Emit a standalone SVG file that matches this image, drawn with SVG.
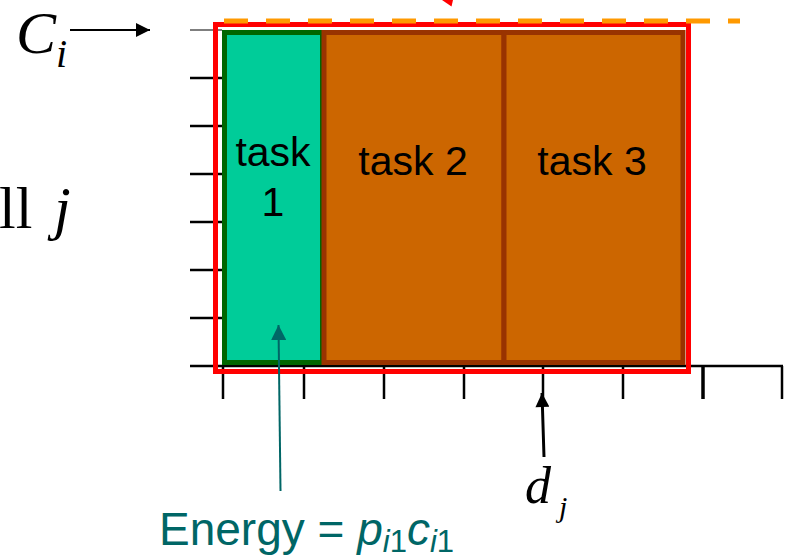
<svg xmlns="http://www.w3.org/2000/svg" width="791" height="559" viewBox="0 0 791 559">
<style>
.serif{font-family:"Liberation Serif","Times New Roman",serif;fill:#000}
.it{font-style:italic}
.task{font-family:"Liberation Sans",Arial,sans-serif;font-size:41px;fill:#000;text-anchor:middle}
.teal{font-family:"Liberation Sans",Arial,sans-serif;fill:#006666}
.tick{stroke:#000;stroke-width:2.5}
.tickb{stroke:#000;stroke-width:3.5}
</style>
<defs>
<marker id="ab" viewBox="0 0 10 10" refX="10" refY="5" markerWidth="16" markerHeight="14" markerUnits="userSpaceOnUse" orient="auto">
<path d="M0,0 L10,5 L0,10 z" fill="#000"/>
</marker>
<marker id="at" viewBox="0 0 10 10" refX="10" refY="5" markerWidth="16" markerHeight="15" markerUnits="userSpaceOnUse" orient="auto">
<path d="M0,0 L10,5 L0,10 z" fill="#006666"/>
</marker>
</defs>
<g id="axes">
<line x1="190" y1="366" x2="783" y2="366" stroke="#000" stroke-width="2.5"/>
<line x1="190" y1="30" x2="222" y2="30" stroke="#555" stroke-width="1.5"/>
<line class="tick" x1="190" y1="78" x2="222" y2="78"/>
<line class="tick" x1="190" y1="126" x2="222" y2="126"/>
<line class="tick" x1="190" y1="174" x2="222" y2="174"/>
<line class="tick" x1="190" y1="222" x2="222" y2="222"/>
<line class="tick" x1="190" y1="270" x2="222" y2="270"/>
<line class="tick" x1="190" y1="318" x2="222" y2="318"/>
<line class="tick" x1="223" y1="366" x2="223" y2="399"/>
<line class="tick" x1="304" y1="366" x2="304" y2="399"/>
<line class="tick" x1="384" y1="366" x2="384" y2="399"/>
<line class="tick" x1="464" y1="366" x2="464" y2="399"/>
<line class="tick" x1="543" y1="366" x2="543" y2="399"/>
<line class="tick" x1="623" y1="366" x2="623" y2="399"/>
<line class="tickb" x1="703" y1="366" x2="703" y2="399"/>
<line class="tick" x1="782" y1="366" x2="782" y2="399"/>
</g>
<g id="task1">
<rect x="224.5" y="32.5" width="98" height="330" fill="#00CC99" stroke="#006600" stroke-width="5"/>
<text class="task" x="273" y="166">task</text>
<text class="task" x="273" y="216">1</text>
</g>
<g id="task2">
<rect x="324" y="32.5" width="180" height="330" fill="#CC6600" stroke="#993300" stroke-width="5"/>
<text class="task" x="413" y="175">task 2</text>
</g>
<g id="task3">
<rect x="504" y="32.5" width="179" height="330" fill="#CC6600" stroke="#993300" stroke-width="5"/>
<text class="task" x="592" y="175">task 3</text>
</g>
<g id="bound">
<rect x="215.5" y="24.5" width="473" height="347" fill="none" stroke="#FF0000" stroke-width="5"/>
<line x1="224" y1="21" x2="740" y2="21" stroke="#FF9900" stroke-width="5" stroke-dasharray="24 18"/>
<polygon points="442,0 453,0 451.5,6.5" fill="#FF0000"/>
</g>
<g id="labels">
<text class="serif it" x="16" y="53" font-size="60">C</text>
<text class="serif it" x="56" y="67" font-size="40">i</text>
<text class="serif" x="-1" y="228" font-size="60">ll</text>
<text class="serif it" x="54" y="228" font-size="60">j</text>
<text class="serif it" x="525" y="503" font-size="52">d</text>
<text class="serif it" x="559" y="517" font-size="30">j</text>
<text class="teal" x="159" y="545" font-size="46">Energy = <tspan font-style="italic">p</tspan><tspan font-size="31" dy="7"><tspan font-style="italic">i</tspan>1</tspan><tspan font-style="italic" dy="-7">c</tspan><tspan font-size="31" dy="7"><tspan font-style="italic">i</tspan>1</tspan></text>
</g>
<g id="connectors">
<line x1="70" y1="30" x2="150" y2="30" stroke="#000" stroke-width="2" marker-end="url(#ab)"/>
<line x1="544" y1="457" x2="542" y2="393" stroke="#000" stroke-width="3" marker-end="url(#ab)"/>
<line x1="280.5" y1="491" x2="278.5" y2="325" stroke="#006666" stroke-width="2" marker-end="url(#at)"/>
</g>
</svg>
